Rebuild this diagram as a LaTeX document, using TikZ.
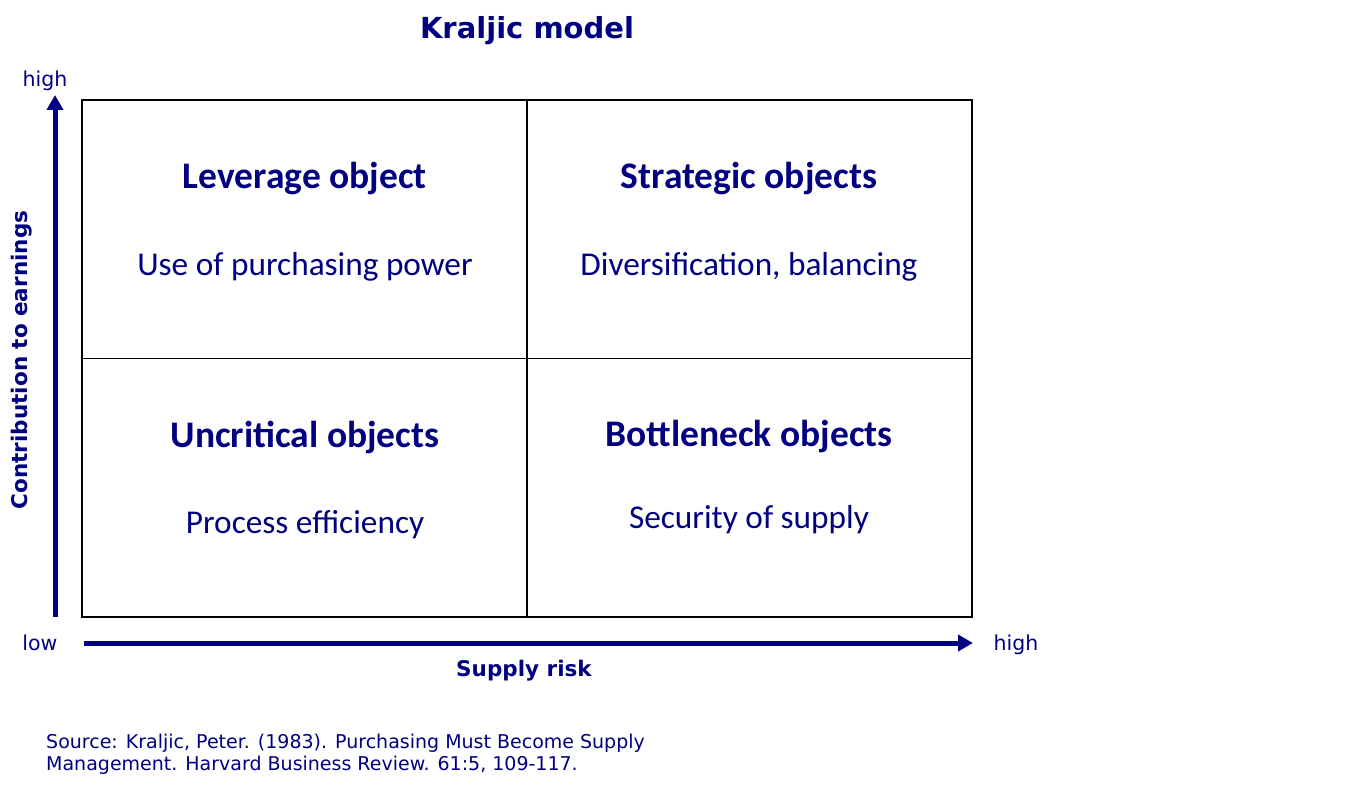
\documentclass[tikz,border=0pt]{standalone}
\usepackage{fontspec}
\setmainfont{DejaVu Sans}
\newfontfamily\calib{Carlito}
\usetikzlibrary{arrows.meta}
\definecolor{navy}{HTML}{000080}
\begin{document}
\begin{tikzpicture}[x=1pt,y=-1pt,
  cell/.style={draw=black,line width=1.8pt,minimum width=445pt,minimum height=258.5pt,inner sep=0pt},
  qhead/.style={text=navy,font=\calib\bfseries\fontsize{37.5}{42}\selectfont,inner sep=0pt},
  qtext/.style={text=navy,font=\calib\fontsize{33.3}{38}\selectfont,inner sep=0pt},
  axlab/.style={text=navy,font=\fontsize{20.5}{24}\selectfont,inner sep=0pt},
  axtitle/.style={text=navy,font=\bfseries\fontsize{21.5}{26}\selectfont,inner sep=0pt},
  axarrow/.style={draw=navy,line width=5pt,-{Triangle[length=15pt,width=16pt]}}]
\useasboundingbox (0,0) rectangle (1345,786);
% title
\node[text=navy,font=\bfseries\fontsize{29}{34}\selectfont,inner sep=0pt] (title) at (527,31) {Kraljic model};
% cells
\node[cell] (lev) at (304.5,229.25) {};
\node[cell] (str) at (749.5,229.25) {};
\node[cell] (unc) at (304.5,487.75) {};
\node[cell] (bot) at (749.5,487.75) {};
% cell texts
\node[qhead] (levh) at (305,179) {Leverage object};
\node[qtext] (levt) at (305,267) {Use of purchasing power};
\node[qhead] (strh) at (749,179) {Strategic objects};
\node[qtext] (strt) at (749,267) {Diversification, balancing};
\node[qhead] (unch) at (305,437) {Uncritical objects};
\node[qtext] (unct) at (305,525) {Process efficiency};
\node[qhead] (both) at (749,437) {Bottleneck objects};
\node[qtext] (bott) at (749,520) {Security of supply};
% axes
\coordinate (ybot) at (55,617);
\coordinate (ytop) at (55,95);
\coordinate (xl) at (84,643);
\coordinate (xr) at (973,643);
\draw[axarrow] (ybot) -- (ytop);
\draw[axarrow] (xl) -- (xr);
\node[axlab] (yhigh) at (45,81) {high};
\node[axlab] (xlow) at (40,643) {low};
\node[axlab] (xhigh) at (1016,645) {high};
\node[axtitle] (xt) at (524,671) {Supply risk};
\node[axtitle,rotate=90] (yt) at (22,360) {Contribution to earnings};
% source
\node[text=navy,font=\fontsize{19}{22}\selectfont,align=left,anchor=north west,inner sep=0pt] (src) at (46,734) {Source: Kraljic, Peter. (1983). Purchasing Must Become Supply\\Management. Harvard Business Review. 61:5, 109-117.};
\end{tikzpicture}
\end{document}
